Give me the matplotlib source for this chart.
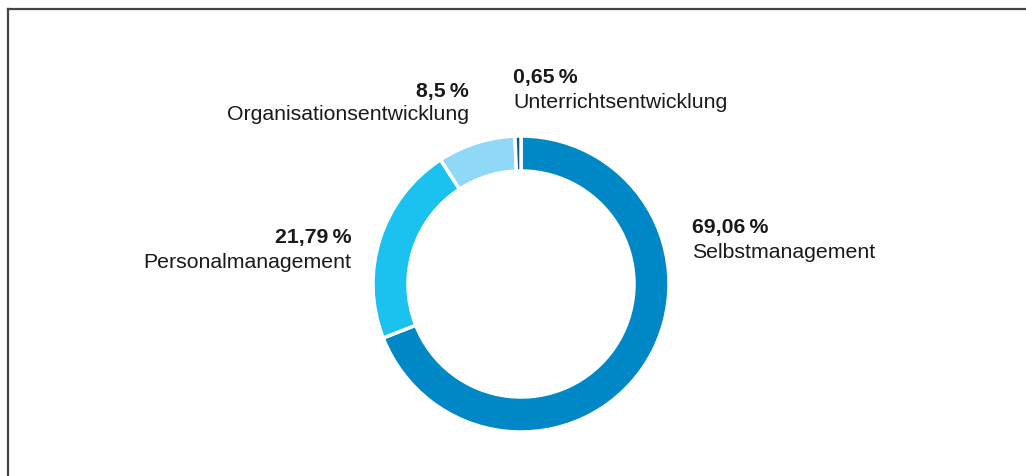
import matplotlib

matplotlib.use("Agg")
from matplotlib import pyplot as plt
from matplotlib.lines import Line2D

plt.rcParams["font.family"] = ["Liberation Sans", "DejaVu Sans"]

categories = ["Selbstmanagement", "Personalmanagement", "Organisationsentwicklung", "Unterrichtsentwicklung"]
shares = [69.06, 21.79, 8.5, 0.65]
share_labels = ["69,06\u2009%", "21,79\u2009%", "8,5\u2009%", "0,65\u2009%"]
colors = ["#0088c6", "#1bc1ef", "#8fd8f6", "#0d5a8c"]

# label anchors in pixel space (x, y from top, alignment)
label_pos = [
    (692, 228, "left"),
    (351, 238, "right"),
    (469, 91, "right"),
    (513, 78, "left"),
]

W, H = 1026, 477
fig = plt.figure(figsize=(W / 100, H / 100), dpi=100)
ax = fig.add_axes([0, 0, 1, 1])

center = (521, H - 285)
radius = 148
ring = 35

ax.pie(
    shares,
    colors=colors,
    startangle=90,
    counterclock=False,
    center=center,
    radius=radius,
    wedgeprops=dict(width=ring, edgecolor="white", linewidth=2.5),
)
ax.set_xlim(0, W)
ax.set_ylim(0, H)
ax.set_aspect("equal", adjustable="box")
ax.axis("off")

for name, pct, (x, y, ha) in zip(categories, share_labels, label_pos):
    ax.text(x, H - y, pct, ha=ha, va="center", fontsize=15.3, fontweight="bold", color="#1a1a1a")
    ax.text(x, H - y - 24, name, ha=ha, va="center", fontsize=15.3, color="#1a1a1a")

# frame lines (top and left)
fig.add_artist(Line2D([8 / W, 1], [1 - 10 / H, 1 - 10 / H], color="#444444", linewidth=1.6))
fig.add_artist(Line2D([8 / W, 8 / W], [0, 1 - 10 / H], color="#444444", linewidth=1.6))

fig.savefig("out.png", dpi=100)
